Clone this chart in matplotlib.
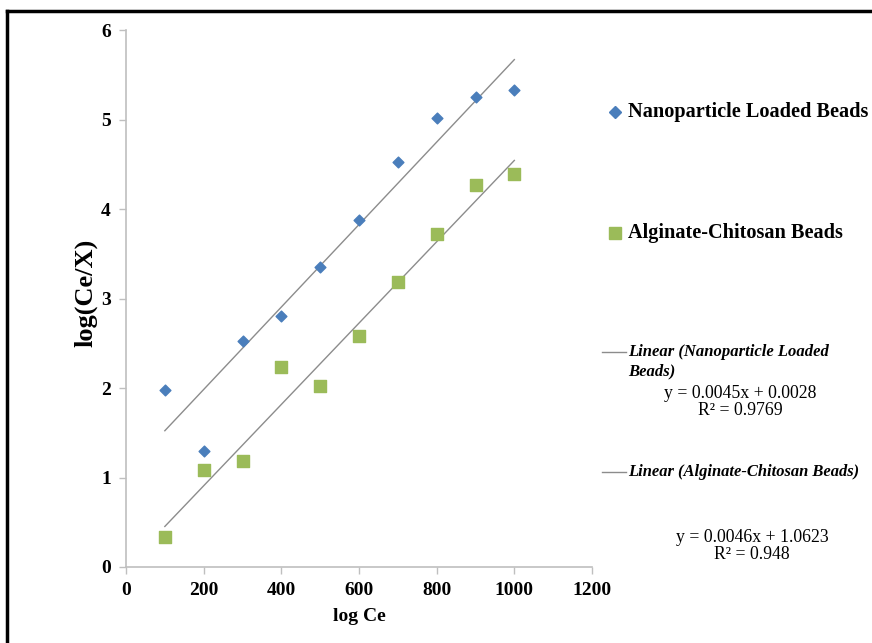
import numpy as np
import matplotlib.pyplot as plt
from matplotlib.lines import Line2D

ce = [100, 200, 300, 400, 500, 600, 700, 800, 900, 1000]
nano = [1.98, 1.30, 2.52, 2.80, 3.35, 3.88, 4.53, 5.02, 5.25, 5.33]
alg = [0.33, 1.08, 1.18, 2.23, 2.02, 2.58, 3.18, 3.72, 4.27, 4.39]
xticks = [0, 200, 400, 600, 800, 1000, 1200]
yticks = [0, 1, 2, 3, 4, 5, 6]
eq_nano = "y = 0.0045x + 0.0028\nR² = 0.9769"
eq_alg = "y = 0.0046x + 1.0623\nR² = 0.948"

serif = "Liberation Serif"
blue = "#4a7ebb"
green = "#9bbb59"
gray = "#bfbfbf"

fig = plt.figure(figsize=(8.72, 6.43), dpi=100)
ax = fig.add_axes([0.1445, 0.1182, 0.5344, 0.8351])

x = np.array(ce)
for vals in (nano, alg):
    m, b = np.polyfit(x, vals, 1)
    ax.plot(x, m * x + b, color="#8c8c8c", lw=1.0, zorder=1)
ax.scatter(ce, nano, marker="D", s=30, color=blue, zorder=3)
ax.scatter(ce, alg, marker="s", s=75, color=green, zorder=3)

ax.set_xlim(0, 1200)
ax.set_ylim(0, 6)
ax.set_xticks(xticks)
ax.set_yticks(yticks)
for s in ("top", "right"):
    ax.spines[s].set_visible(False)
for s in ("left", "bottom"):
    ax.spines[s].set_color(gray)
    ax.spines[s].set_linewidth(1.2)
ax.tick_params(colors=gray, length=5, width=1, direction="out", pad=6)
for lab in ax.get_xticklabels() + ax.get_yticklabels():
    lab.set_color("black")
    lab.set_fontfamily(serif)
    lab.set_fontweight("bold")
    lab.set_fontsize(14)
ax.set_xlabel("log Ce", fontfamily=serif, fontweight="bold", fontsize=14, labelpad=6)
ax.set_ylabel("log(Ce/X)", fontfamily=serif, fontweight="bold", fontsize=19)
ax.yaxis.set_label_coords(-0.062, 0.51)

# legend drawn by hand
def fx(px):
    return px / 872

def fy(py):
    return 1 - py / 643

fig.add_artist(Line2D([fx(615)], [fy(112)], marker="D", ms=6, color=blue, ls=""))
fig.text(fx(628), fy(112), "Nanoparticle Loaded Beads", fontfamily=serif,
         fontweight="bold", fontsize=14.6, va="center")
fig.add_artist(Line2D([fx(615)], [fy(233)], marker="s", ms=8, color=green, ls=""))
fig.text(fx(628), fy(233), "Alginate-Chitosan Beads", fontfamily=serif,
         fontweight="bold", fontsize=14.6, va="center")

fig.add_artist(Line2D([fx(602), fx(626)], [fy(352), fy(352)], color="#8c8c8c", lw=1))
fig.text(fx(628), fy(352), "Linear (Nanoparticle Loaded", fontfamily=serif,
         fontweight="bold", style="italic", fontsize=12, va="center")
fig.text(fx(628), fy(371), "Beads)", fontfamily=serif,
         fontweight="bold", style="italic", fontsize=12, va="center")
fig.text(fx(740), fy(402), eq_nano, fontfamily=serif, fontsize=12.8,
         ha="center", va="center", linespacing=1.05)

fig.add_artist(Line2D([fx(602), fx(626)], [fy(472), fy(472)], color="#8c8c8c", lw=1))
fig.text(fx(628), fy(472), "Linear (Alginate-Chitosan Beads)", fontfamily=serif,
         fontweight="bold", style="italic", fontsize=11.9, va="center")
fig.text(fx(752), fy(546), eq_alg, fontfamily=serif, fontsize=12.8,
         ha="center", va="center", linespacing=1.05)

# frame (top and left edges visible)
fig.add_artist(Line2D([fx(7), fx(872)], [fy(11), fy(11)], color="black", lw=2.5))
fig.add_artist(Line2D([fx(7), fx(7)], [fy(11), fy(643)], color="black", lw=2.5))

fig.savefig("out.png", dpi=100)
